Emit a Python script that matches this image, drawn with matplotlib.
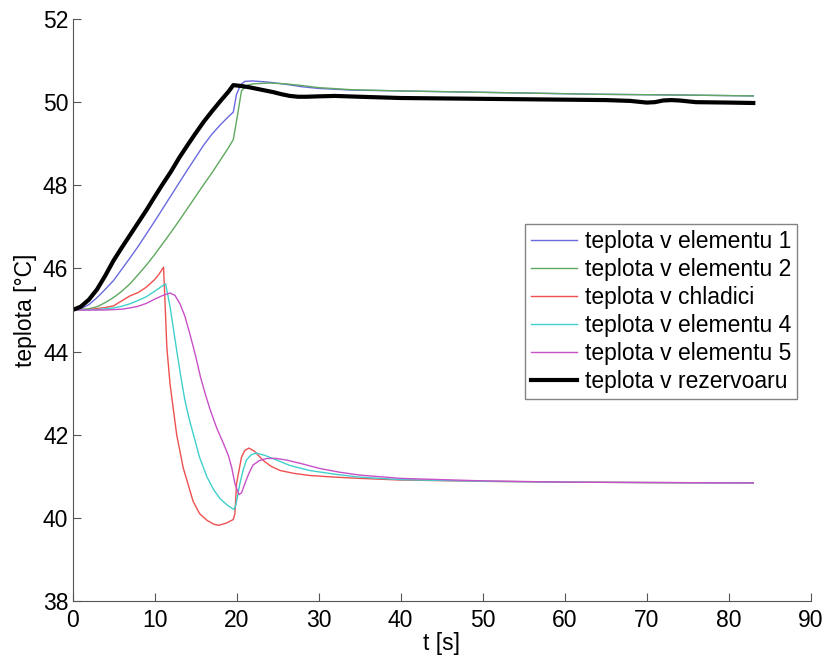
import matplotlib.pyplot as plt

plt.rcParams['font.family'] = ['Liberation Sans', 'DejaVu Sans']

# reservoir temperature
t_rez = [0, 1, 2, 3, 4, 5, 6, 7, 8, 9, 10, 11, 12, 13, 14, 15, 16, 17, 18, 19, 19.6,
         20.5, 21.5, 22.5, 23.5, 24.5, 25.5, 26.5, 27.5, 28.5, 30, 32, 35, 40, 50, 60,
         65, 68, 70, 71, 72, 73, 74, 76, 80, 83]
T_rez = [45.0, 45.08, 45.25, 45.5, 45.83, 46.19, 46.5, 46.8, 47.1, 47.4, 47.72, 48.03,
         48.33, 48.66, 48.96, 49.25, 49.53, 49.78, 50.02, 50.25, 50.41,
         50.39, 50.36, 50.32, 50.28, 50.24, 50.19, 50.15, 50.13, 50.13, 50.14, 50.15,
         50.13, 50.1, 50.08, 50.06, 50.05, 50.03, 49.99, 50.0, 50.04, 50.05, 50.04,
         50.0, 49.99, 49.98]

# element 1
t_e1 = [0, 1, 2, 3, 4, 5, 6, 7, 8, 9, 10, 11, 12, 13, 14, 15, 16, 17, 18, 19, 19.6,
        20.0, 20.5, 21, 22, 24, 26, 28, 30, 34, 40, 46, 55, 64, 75, 83]
T_e1 = [45.0, 45.03, 45.13, 45.3, 45.5, 45.71, 45.98, 46.25, 46.53, 46.83, 47.13,
        47.44, 47.75, 48.06, 48.37, 48.67, 48.97, 49.23, 49.45, 49.65, 49.76,
        50.19, 50.42, 50.5, 50.51, 50.48, 50.43, 50.37, 50.33, 50.29, 50.27, 50.25,
        50.22, 50.19, 50.17, 50.15]

# element 2
t_e2 = [0, 2, 3, 4, 5, 6, 7, 8, 9, 10, 11, 12, 13, 14, 15, 16, 17, 18, 19, 19.6,
        20.0, 20.6, 21.2, 22, 24, 26, 28, 30, 34, 40, 46, 55, 64, 75, 83]
T_e2 = [45.0, 45.03, 45.08, 45.18, 45.3, 45.45, 45.63, 45.85, 46.08, 46.33, 46.6,
        46.87, 47.15, 47.44, 47.73, 48.02, 48.3, 48.6, 48.9, 49.1,
        49.55, 50.27, 50.4, 50.44, 50.46, 50.44, 50.4, 50.35, 50.3, 50.27, 50.25,
        50.22, 50.19, 50.17, 50.15]

# cooler
t_chl = [0, 2, 4, 5, 6, 7, 8, 9, 10, 10.5, 11.1, 11.5, 11.9, 12.7, 13.5, 14.7, 15.5,
         16.4, 17.2, 17.8, 18.7, 19.6, 19.8, 20.0, 20.6, 21.0, 21.5, 22.2, 23.2, 24.2,
         25.3, 27, 28.9, 32, 35, 40, 50, 60, 70, 83]
T_chl = [45.0, 45.01, 45.06, 45.1, 45.22, 45.34, 45.42, 45.55, 45.73, 45.85, 46.03,
         44.1, 43.2, 42.0, 41.2, 40.4, 40.1, 39.94, 39.85, 39.82, 39.87, 39.96, 40.1,
         40.83, 41.46, 41.62, 41.68, 41.6, 41.39, 41.24, 41.14, 41.07, 41.02, 40.98,
         40.95, 40.91, 40.88, 40.86, 40.85, 40.84]

# element 4
t_e4 = [0, 3, 5, 6, 7, 8, 9, 10, 10.8, 11.35, 11.9, 12.3, 12.7, 13.2, 13.7, 14.2,
        14.7, 15.5, 16.4, 17.2, 18.0, 18.9, 19.7, 19.9, 20.4, 20.8, 21.2, 21.8, 22.4,
        23.5, 24.9, 26.5, 28.9, 32, 35, 40, 50, 60, 70, 83]
T_e4 = [45.0, 45.01, 45.05, 45.09, 45.15, 45.23, 45.32, 45.45, 45.56, 45.63, 45.07,
        44.55, 44.03, 43.4, 42.83, 42.4, 42.03, 41.45, 40.98, 40.68, 40.46, 40.3,
        40.2, 40.3, 40.82, 41.15, 41.39, 41.52, 41.56, 41.5, 41.39, 41.26, 41.14,
        41.05, 40.98, 40.92, 40.88, 40.86, 40.85, 40.84]

# element 5
t_e5 = [0, 4, 6, 7, 8, 9, 10, 11, 11.9, 12.5, 13.1, 13.7, 14.3, 15.0, 15.6, 16.2,
        16.8, 17.6, 18.4, 19.0, 19.4, 19.8, 20.3, 20.6, 21.0, 21.5, 22.0, 22.8, 23.7,
        24.8, 26.1, 28, 30.1, 32.5, 35, 40, 50, 60, 70, 83]
T_e5 = [45.0, 45.0, 45.02, 45.05, 45.09, 45.16, 45.26, 45.35, 45.41, 45.35, 45.15,
        44.85, 44.43, 43.9, 43.39, 42.97, 42.59, 42.15, 41.79, 41.5, 41.22, 40.82,
        40.56, 40.6, 40.82, 41.07, 41.27, 41.38, 41.43, 41.43, 41.39, 41.3, 41.19,
        41.1, 41.03, 40.95, 40.89, 40.86, 40.85, 40.84]

labels = ['teplota v elementu 1', 'teplota v elementu 2', 'teplota v chladici',
          'teplota v elementu 4', 'teplota v elementu 5', 'teplota v rezervoaru']

fs = 16.5

fig = plt.figure(figsize=(8.26, 6.58), dpi=100)
ax = fig.add_axes([0.0878, 0.0866, 0.8937, 0.8845])

ax.plot(t_e1, T_e1, color='#6a6ae0', lw=1.0, label=labels[0])
ax.plot(t_e2, T_e2, color='#5fa85f', lw=1.0, label=labels[1])
ax.plot(t_chl, T_chl, color='#ee5050', lw=1.0, label=labels[2])
ax.plot(t_e4, T_e4, color='#40d0cc', lw=1.0, label=labels[3])
ax.plot(t_e5, T_e5, color='#c850c8', lw=1.0, label=labels[4])
ax.plot(t_rez, T_rez, color='black', lw=3.0, label=labels[5])

ax.set_xlim(0, 90)
ax.set_ylim(38, 52)
ax.set_xticks(range(0, 91, 10))
ax.set_yticks(range(38, 53, 2))
ax.tick_params(direction='in', length=5.5, labelsize=fs, color='#555555')
ax.tick_params(axis='x', pad=6)
ax.tick_params(axis='y', pad=3)
for side in ['top', 'right']:
    ax.spines[side].set_visible(False)
for side in ['left', 'bottom']:
    ax.spines[side].set_color('#555555')
ax.set_xlabel('t [s]', fontsize=fs, labelpad=0)
ax.set_ylabel('teplota [°C]', fontsize=fs, labelpad=4)

leg = ax.legend(loc='upper left', bbox_to_anchor=(0.613, 0.648), borderaxespad=0,
                fontsize=fs, fancybox=False, handlelength=2.0, handletextpad=0.35,
                labelspacing=0.22, borderpad=0.25)
leg.get_frame().set_edgecolor('#666666')
leg.get_frame().set_linewidth(1.0)

fig.savefig('out.png', dpi=100)
